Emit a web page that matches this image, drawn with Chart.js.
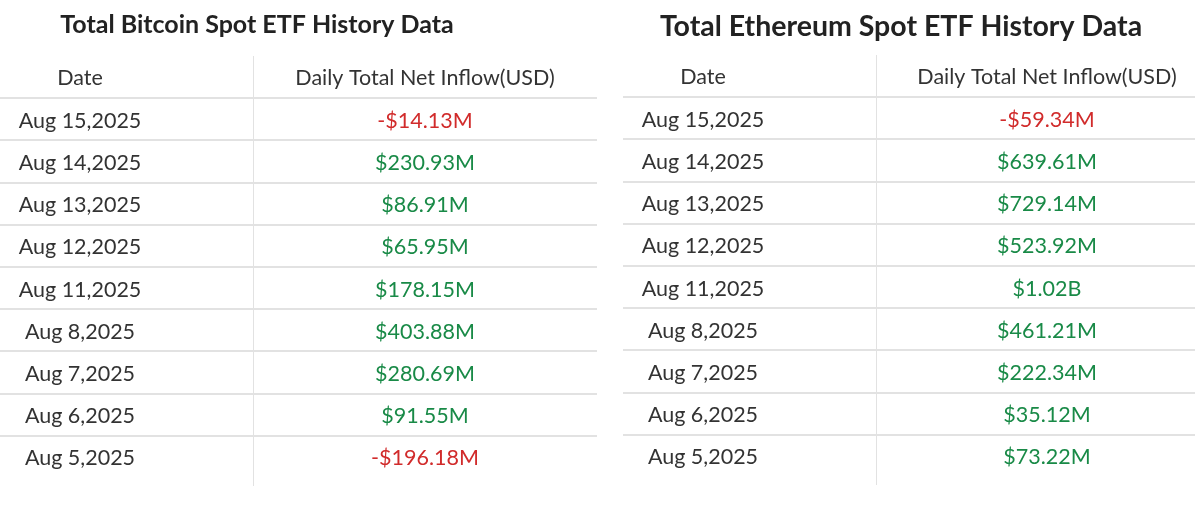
<!DOCTYPE html>
<html><head><meta charset="utf-8">
<script src="https://cdn.jsdelivr.net/npm/chart.js@4"></script>
<style>html,body{margin:0;background:#fff;width:1195px;height:517px;overflow:hidden}
.box{position:absolute;top:0;height:517px}</style></head>
<body>
<div class="box" style="left:0;width:597px"><canvas id="c1"></canvas></div>
<div class="box" style="left:623px;width:572px"><canvas id="c2"></canvas></div>
<script>
const dates = ["Aug 15,2025","Aug 14,2025","Aug 13,2025","Aug 12,2025","Aug 11,2025","Aug 8,2025","Aug 7,2025","Aug 6,2025","Aug 5,2025"];
const btcFlows = [-14.13,230.93,86.91,65.95,178.15,403.88,280.69,91.55,-196.18];
const ethFlows = [-59.34,639.61,729.14,523.92,1020,461.21,222.34,35.12,73.22];
const headers = ["Date","Daily Total Net Inflow(USD)"];

function fmt(v){const a=Math.abs(v);const s=a>=1000?(a/1000).toFixed(2)+"B":a.toFixed(2)+"M";return (v<0?"-$":"$")+s;}

function make(id,title,titleSize,titleX,titleY,values,divider,dateX,valX,top,bottom,hdrY){
  const labels=["hdr",...dates];
  const textPlugin={id:'txt',afterDraw(ch){
    const c=ch.ctx,x=ch.scales.x,y=ch.scales.y;
    c.save();c.textAlign='center';c.textBaseline='middle';
    c.font='bold '+titleSize+'px Lato';c.fillStyle='#222';
    c.fillText(title,titleX,titleY);
    c.font='21.5px Lato';c.fillStyle='#333';
    c.fillText(headers[0],x.getPixelForValue(dateX),hdrY);
    c.fillText(headers[1],x.getPixelForValue(valX),hdrY);
    dates.forEach((d,i)=>{
      const py=y.getPixelForValue(i+1)+1.5;
      c.fillStyle='#333';c.fillText(d,x.getPixelForValue(dateX),py);
      c.fillStyle=values[i]<0?'#d12b2b':'#198a47';
      c.fillText(fmt(values[i]),x.getPixelForValue(valX),py);
    });
    c.restore();}};
  new Chart(document.getElementById(id),{type:'bar',
    data:{labels,datasets:[{data:[]}]},
    options:{responsive:true,maintainAspectRatio:false,animation:false,indexAxis:'y',
      layout:{padding:{top,bottom,left:0,right:0}},
      plugins:{legend:{display:false},tooltip:{enabled:false}},
      scales:{
        y:{type:'category',offset:true,ticks:{display:false},border:{display:false},afterFit:s=>{s.width=0;},
           grid:{offset:true,lineWidth:2,color:ctx=>(ctx.index>0&&ctx.index<labels.length)?'#e2e2e2':'rgba(0,0,0,0)'}},
        x:{type:'linear',min:0,max:1,ticks:{display:false},border:{display:false},afterFit:s=>{s.height=0;},
           afterBuildTicks:s=>{s.ticks=[{value:divider}];},
           grid:{lineWidth:1,color:'#e2e2e2'}}
      }},
    plugins:[textPlugin]});
}
make('c1','Total Bitcoin Spot ETF History Data',25,257,25,btcFlows,253/597,80/597,425/597,56,39,78);
make('c2','Total Ethereum Spot ETF History Data',28.5,278,27,ethFlows,253/572,80/572,424/572,55,40,77);
</script></body></html>
